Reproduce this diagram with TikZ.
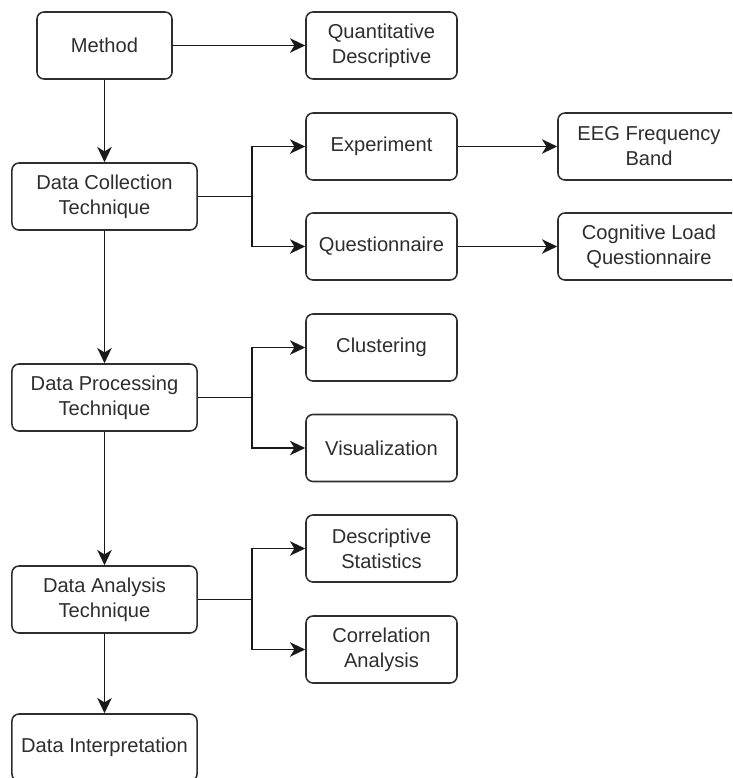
\documentclass[tikz,border=0pt]{standalone}
\usepackage{fontspec}
\setmainfont{Liberation Sans}
\usepackage{xcolor}
\usepackage{tikz}
\usetikzlibrary{arrows.meta,positioning,calc}

\definecolor{ink}{HTML}{2E2E2E}

\begin{document}
\begin{tikzpicture}[
    x=0.025cm, y=-0.025cm,
    font=\fontsize{14.3}{17.8}\selectfont,
    >={Stealth[length=3.8mm, width=3.6mm, inset=1.1mm]},
    box/.style={draw=ink, text=ink, rounded corners=5pt, align=center, minimum height=1.675cm, fill=white, line width=1.1pt, inner sep=2pt},
    mainbox/.style={box, minimum width=4.625cm},
    subbox/.style={box, minimum width=3.775cm},
    leafbox/.style={box, minimum width=4.55cm},
    arrow/.style={->, draw=black!90, line width=1.1pt}
]
\clip (0,0) rectangle (732,778);
\fill[white] (0,0) rectangle (732,778);
% left column
\node[box, minimum width=3.375cm] (method) at (104.5,45.5) {Method};
\node[mainbox] (collect) at (104.5,196.5) {Data Collection\\Technique};
\node[mainbox] (process) at (104.5,397.5) {Data Processing\\Technique};
\node[mainbox] (analysis) at (104.5,599.5) {Data Analysis\\Technique};
\node[mainbox] (interp) at (104.5,747.5) {Data Interpretation};
% middle column
\node[subbox] (quant) at (381.5,45.5) {Quantitative\\Descriptive};
\node[subbox] (exper) at (381.5,146.5) {Experiment};
\node[subbox] (quest) at (381.5,246.5) {Questionnaire};
\node[subbox] (cluster) at (381.5,347.5) {Clustering};
\node[subbox] (visual) at (381.5,448) {Visualization};
\node[subbox] (descstat) at (381.5,548.5) {Descriptive\\Statistics};
\node[subbox] (corr) at (381.5,649.5) {Correlation\\Analysis};
% right column
\node[leafbox] (eeg) at (649,146.5) {EEG Frequency\\Band};
\node[leafbox] (cogload) at (649,246.5) {Cognitive Load\\Questionnaire};
% branch points
\coordinate (jcollect) at (252,196.5);
\coordinate (jprocess) at (252,397.5);
\coordinate (janalysis) at (252,599.5);
\draw[arrow] (method) -- (collect);
\draw[arrow] (collect) -- (process);
\draw[arrow] (process) -- (analysis);
\draw[arrow] (analysis) -- (interp);
\draw[arrow] (method) -- (quant);
\draw[arrow] (exper) -- (eeg);
\draw[arrow] (quest) -- (cogload);
\draw[arrow] (collect.east) -- (jcollect) |- (exper.west);
\draw[arrow] (jcollect) |- (quest.west);
\draw[arrow] (process.east) -- (jprocess) |- (cluster.west);
\draw[arrow] (jprocess) |- (visual.west);
\draw[arrow] (analysis.east) -- (janalysis) |- (descstat.west);
\draw[arrow] (janalysis) |- (corr.west);
\end{tikzpicture}
\end{document}
